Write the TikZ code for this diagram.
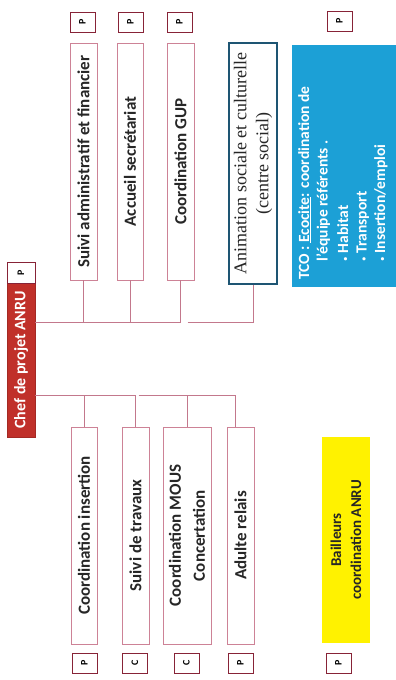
\documentclass[tikz,border=0pt]{standalone}
\usepackage{fontspec}
\setmainfont{Carlito}
\newfontfamily\seriffam{Liberation Serif}
\usetikzlibrary{calc}
\definecolor{lnk}{RGB}{195,120,140}
\definecolor{bord}{RGB}{205,130,150}
\definecolor{pbord}{RGB}{135,35,55}
\definecolor{chefred}{RGB}{192,48,42}
\definecolor{tcoblue}{RGB}{28,160,214}
\definecolor{yel}{RGB}{255,242,0}
\definecolor{animb}{RGB}{30,85,115}
\newcommand{\smbul}{{\mdseries\fontsize{9}{9}\selectfont•}\ }
\begin{document}
\begin{tikzpicture}[x=1pt,y=-1pt,
  box/.style={draw=bord, line width=0.6pt, fill=white, rotate=90, inner sep=0pt, align=center, font=\bfseries\fontsize{17}{24}\selectfont, text=black!85},
  pbox/.style={draw=pbord, line width=1pt, fill=white, rotate=90, inner sep=0pt, font=\bfseries\fontsize{10}{11}\selectfont, minimum width=20pt, minimum height=25pt},
  link/.style={draw=lnk, line width=0.6pt}]
\useasboundingbox (0,0) rectangle (396,680);
% chef
\node[draw=chefred!85!black, fill=chefred, rotate=90, minimum width=154pt, minimum height=28pt, inner sep=0pt, text=white, font=\bfseries\fontsize{16}{18}\selectfont] (chef) at (21,360) {Chef de projet ANRU};
\node[pbox, minimum width=21pt, minimum height=28pt] (pchef) at (21,272.5) {P};
% upper boxes
\node[box, minimum width=237pt, minimum height=27pt] (sa) at (83.5,161.5) {Suivi administratif et financier};
\node[box, minimum width=237pt, minimum height=26pt] (ac) at (130,161.5) {Accueil secrétariat};
\node[box, minimum width=237pt, minimum height=27pt] (gup) at (180.5,161.5) {Coordination GUP};
\node[box, draw=animb, line width=1.2pt, minimum width=241pt, minimum height=48pt, font=\seriffam\fontsize{18}{22}\selectfont] (anim) at (253,163.5) {Animation sociale et culturelle\\(centre social)};
\node[fill=tcoblue, rotate=90, inner sep=0pt, minimum width=242pt, minimum height=106pt] (tco) at (345,166) {};
\node[rotate=90, anchor=north west, inner sep=0pt, align=left, text=white, font=\bfseries\fontsize{15.5}{18.5}\selectfont] (tcot) at (298,280) {TCO : \underline{Ecocite}: coordination de\\\hspace*{1.2em}l'équipe référents .\\[2pt]\hspace*{1.2em}\smbul Habitat\\\hspace*{1.2em}\smbul Transport\\\hspace*{1.2em}\smbul Insertion/emploi};
% upper P boxes
\node[pbox] (p1) at (82.5,22) {P};
\node[pbox] (p2) at (130.5,22) {P};
\node[pbox] (p3) at (179.5,22) {P};
\node[pbox] (p4) at (339.5,21) {P};
% lower boxes
\node[box, minimum width=217pt, minimum height=26pt] (ci) at (84,535.5) {Coordination insertion};
\node[box, minimum width=217pt, minimum height=27pt] (st) at (135.5,535.5) {Suivi de travaux};
\node[box, minimum width=217pt, minimum height=48pt] (mous) at (187,535.5) {Coordination MOUS\\Concertation};
\node[box, minimum width=217pt, minimum height=27pt] (ar) at (240.5,535.5) {Adulte relais};
\node[fill=yel, rotate=90, inner sep=0pt, minimum width=206pt, minimum height=48pt, align=center, font=\bfseries\fontsize{15}{20}\selectfont, text=black!85] (bail) at (346,540) {Bailleurs\\coordination ANRU};
% lower P boxes
\node[pbox] (q1) at (84.5,663) {P};
\node[pbox] (q2) at (135,663) {C};
\node[pbox] (q3) at (186.5,663) {C};
\node[pbox] (q4) at (240.5,663) {P};
\node[pbox] (q5) at (338.5,663) {P};
% connectors
\coordinate (cu) at ($(chef.south)+(0,-38)$);
\coordinate (cl) at ($(chef.south)+(0,35)$);
\draw[link] (cu) -- (cu -| gup.west);
\draw[link] (cu -| sa.west) -- (sa.west);
\draw[link] (cu -| ac.west) -- (ac.west);
\draw[link] (cu -| gup.west) -- (gup.west);
\draw[link] ([xshift=7pt]cu -| gup.west) -| (anim.west);
\draw[link] (cl) -- (cl -| st.east);
\draw[link] (cl -| ci.east) -- (ci.east);
\draw[link] (cl -| st.east) -- (st.east);
\draw[link] ([xshift=3pt]cl -| st.east) -| ([xshift=-5pt]ar.east);
\draw[link] (cl -| mous.east) -- (mous.east);
\end{tikzpicture}
\end{document}
